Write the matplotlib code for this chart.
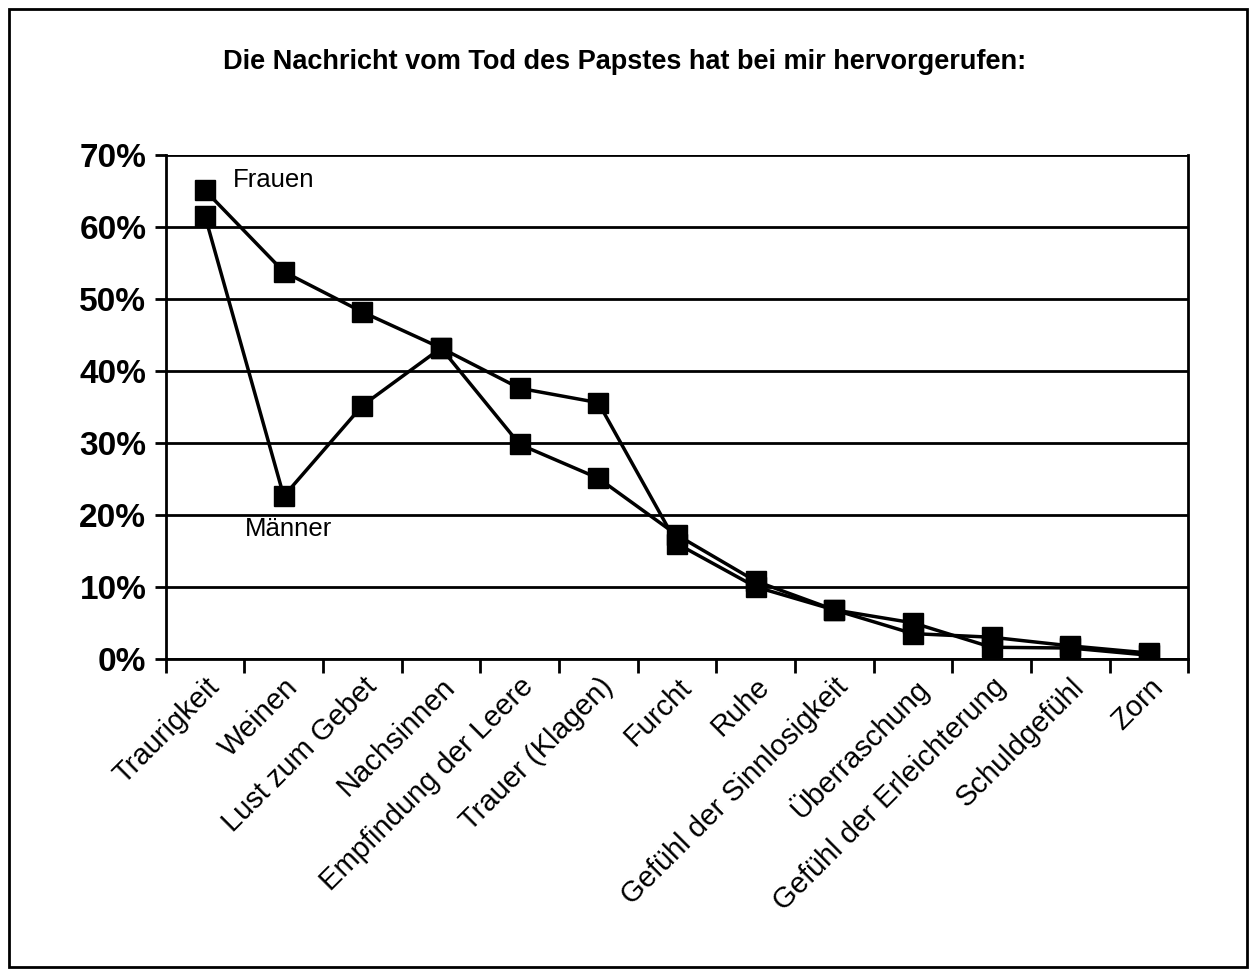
import matplotlib.pyplot as plt
from matplotlib.patches import Rectangle
from matplotlib.ticker import FixedLocator, PercentFormatter

plt.rcParams["font.family"] = ["Liberation Sans", "DejaVu Sans"]

categories = ["Traurigkeit", "Weinen", "Lust zum Gebet", "Nachsinnen",
              "Empfindung der Leere", "Trauer (Klagen)", "Furcht", "Ruhe",
              "Gefühl der Sinnlosigkeit", "Überraschung",
              "Gefühl der Erleichterung", "Schuldgefühl", "Zorn"]
frauen = [65.1, 53.8, 48.2, 43.2, 37.6, 35.6, 16.0, 10.0, 6.8, 3.5, 3.0, 1.8, 0.8]
maenner = [61.5, 22.6, 35.2, 43.2, 29.8, 25.1, 17.2, 10.8, 6.8, 5.0, 1.6, 1.5, 0.5]

fig = plt.figure(figsize=(12.56, 9.76), dpi=100)
ax = fig.add_axes([0.132, 0.325, 0.814, 0.516])

x = list(range(len(categories)))
ax.plot(x, frauen, color="black", lw=2.5, marker="s", ms=15, zorder=3)
ax.plot(x, maenner, color="black", lw=2.5, marker="s", ms=15, zorder=3)

ax.set_xlim(-0.5, len(categories) - 0.5)
ax.set_ylim(0, 70)
ax.set_yticks(range(0, 71, 10))
ax.yaxis.set_major_formatter(PercentFormatter(decimals=0))
ax.yaxis.grid(True, color="black", lw=2)
ax.set_axisbelow(True)

ax.set_xticks(x)
ax.set_xticklabels(categories, rotation=45, ha="right", rotation_mode="anchor")
ax.xaxis.set_minor_locator(FixedLocator([i + 0.5 for i in range(-1, len(categories))]))
ax.tick_params(axis="x", which="major", length=0, pad=10, labelsize=21)
ax.tick_params(axis="x", which="minor", length=10, width=2, direction="out")
ax.tick_params(axis="y", length=8, width=2, labelsize=24, pad=6)
for lbl in ax.get_yticklabels():
    lbl.set_fontweight("bold")

for side in ["left", "bottom", "right"]:
    ax.spines[side].set_linewidth(2)
ax.spines["top"].set_visible(False)

ax.text(0.35, 66.5, "Frauen", fontsize=18.5, va="center", ha="left")
ax.text(0.5, 18.0, "Männer", fontsize=18.5, va="center", ha="left")

fig.text(0.497, 0.936, "Die Nachricht vom Tod des Papstes hat bei mir hervorgerufen:",
         fontsize=19.5, fontweight="bold", ha="center", va="center")

fig.patches.append(Rectangle((0.007, 0.009), 0.986, 0.982, transform=fig.transFigure,
                             fill=False, edgecolor="black", lw=2))

fig.savefig("out.png", dpi=100)
